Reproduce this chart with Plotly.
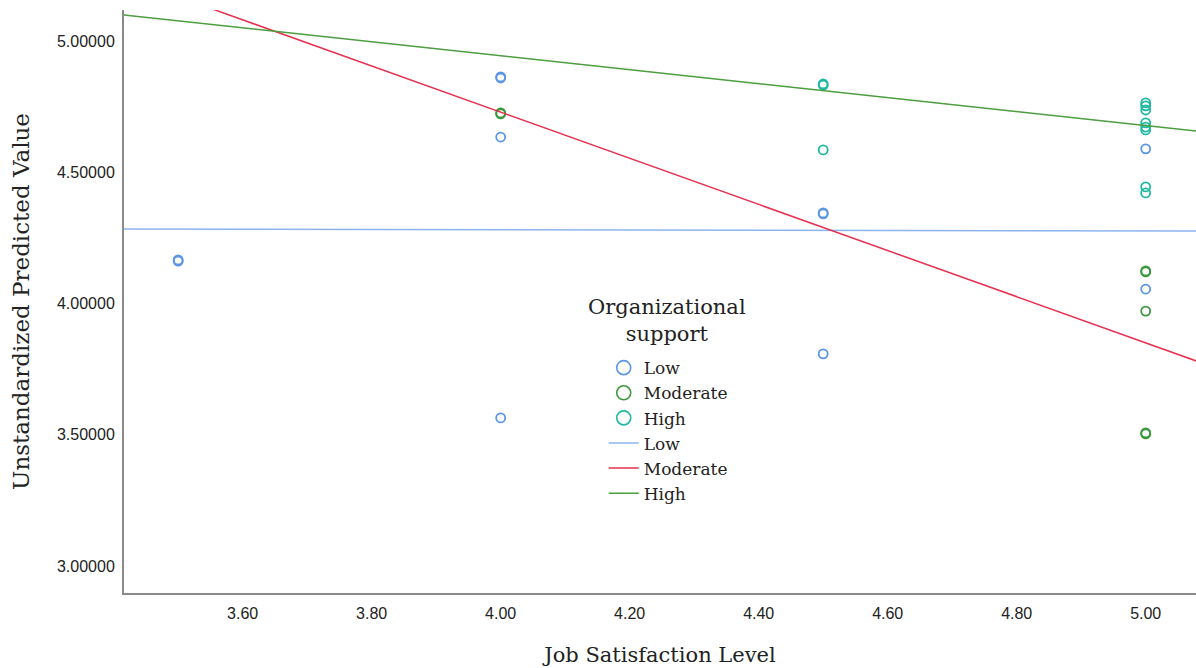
import plotly.graph_objects as go
import numpy as np

# ---- data ----
low_x = [3.5, 3.5, 4.0, 4.0, 4.0, 4.0, 4.5, 4.5, 4.5, 5.0, 5.0]
low_y = [4.166, 4.161, 4.863, 4.859, 4.634, 3.564, 4.345, 4.341, 3.808, 4.589, 4.055]

mod_x = [4.0, 4.0, 5.0, 5.0, 5.0, 5.0, 5.0]
mod_y = [4.726, 4.722, 4.124, 4.120, 3.971, 3.507, 3.503]

high_x = [4.5, 4.5, 4.5, 5.0, 5.0, 5.0, 5.0, 5.0, 5.0, 5.0, 5.0]
high_y = [4.836, 4.832, 4.585, 4.764, 4.753, 4.737, 4.688, 4.672, 4.661, 4.444, 4.421]

# fit lines: intercept, slope
fit_low = (4.300, -0.0048)
fit_mod = (8.245, -0.879)
fit_high = (6.008, -0.266)
fit_x = np.array([3.40, 5.10])

y_ticks = [3.0, 3.5, 4.0, 4.5, 5.0]
x_ticks = [3.6, 3.8, 4.0, 4.2, 4.4, 4.6, 4.8, 5.0]

groups = ["Low", "Moderate", "High"]

c_low_pt = "#5b96e6"
c_mod_pt = "#3c983c"
c_high_pt = "#1fb8a3"
c_low_ln = "#8cb5ee"
c_mod_ln = "#e6304f"
c_high_ln = "#4c9e3f"

serif = "DejaVu Serif"

fig = go.Figure()
pts = [(low_x, low_y, c_low_pt), (mod_x, mod_y, c_mod_pt), (high_x, high_y, c_high_pt)]
for name, (xs, ys, col) in zip(groups, pts):
    fig.add_trace(go.Scatter(
        x=xs, y=ys, mode="markers", name=name, showlegend=False,
        marker=dict(symbol="circle-open", size=9, color=col, line=dict(width=1.8, color=col)),
    ))
# legend entries for the point groups (larger symbols, as in the reference legend)
for name, (xs, ys, col) in zip(groups, pts):
    fig.add_trace(go.Scatter(
        x=[None], y=[None], mode="markers", name=name,
        marker=dict(symbol="circle-open", size=14, color=col, line=dict(width=1.6, color=col)),
    ))

fits = [(fit_low, c_low_ln), (fit_mod, c_mod_ln), (fit_high, c_high_ln)]
for name, ((b0, b1), col) in zip(groups, fits):
    fig.add_trace(go.Scatter(
        x=fit_x, y=b0 + b1 * fit_x, mode="lines", name=name,
        line=dict(color=col, width=1.5),
    ))

fig.add_annotation(
    text="Organizational<br>support", xref="paper", yref="paper",
    x=0.5065, y=0.468, xanchor="center", yanchor="middle", align="center",
    showarrow=False, font=dict(family=serif, size=21, color="#222"),
)

fig.update_layout(
    width=1196, height=668,
    margin=dict(l=124, r=0, t=10, b=75),
    plot_bgcolor="white", paper_bgcolor="white",
    font=dict(family="Liberation Sans, Arial", size=16, color="#222"),
    legend=dict(
        x=0.4475, y=0.4166, xanchor="left", yanchor="top",
        bgcolor="rgba(0,0,0,0)",
        font=dict(family=serif, size=17, color="#222"),
        tracegroupgap=0,
    ),
    xaxis=dict(
        range=[3.416, 5.078], tickvals=x_ticks, tickformat=".2f",
        showgrid=False, zeroline=False, showline=True, linecolor="#8a8a8a", linewidth=2,
        ticks="", ticklabelstandoff=5,
        title=dict(text="Job Satisfaction Level", font=dict(family=serif, size=21, color="#222"), standoff=26),
    ),
    yaxis=dict(
        range=[2.897, 5.118], tickvals=y_ticks, tickformat=".5f",
        showgrid=False, zeroline=False, showline=True, linecolor="#8a8a8a", linewidth=2,
        ticks="", ticklabelstandoff=4,
        title=dict(text="Unstandardized Predicted Value", font=dict(family=serif, size=23, color="#222"), standoff=21),
    ),
)

fig.write_html("out.html", config={"displayModeBar": False},
               post_script="document.body.style.margin='0';")
